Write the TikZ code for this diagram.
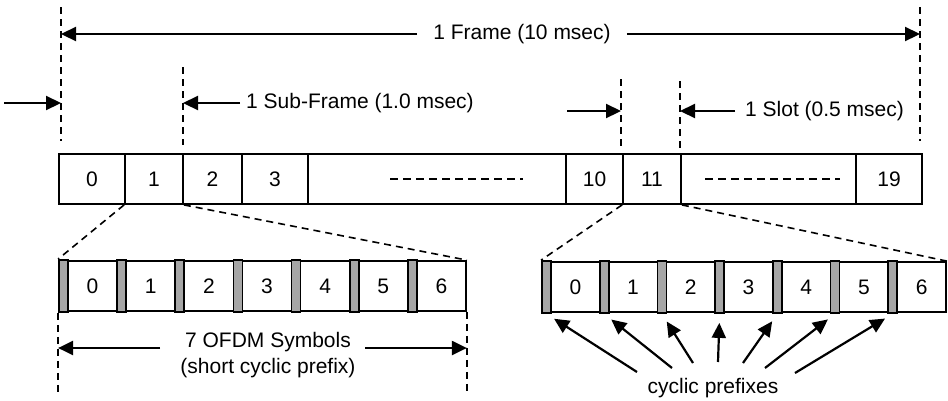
\documentclass[tikz,border=0pt]{standalone}
\usepackage{fontspec}
\setmainfont{Liberation Sans}
\usetikzlibrary{arrows.meta}

\begin{document}
\begin{tikzpicture}[x=1pt,y=-1pt,font=\fontsize{21}{26}\selectfont]
        \tikzstyle{slot}=[draw,line width=1.8pt,minimum height=50pt,inner sep=0pt]
        \tikzstyle{symbox}=[draw,line width=1.8pt,minimum height=50pt,inner sep=0pt]
        \tikzstyle{cpbox}=[draw,line width=1.8pt,fill=black!35,minimum height=52pt,minimum width=9pt,inner sep=0pt]
        \tikzstyle{guide}=[line width=1.6pt,dash pattern=on 7pt off 5pt]
        \tikzstyle{span}=[line width=2.2pt,-{Triangle[length=15pt,width=14pt]}]
        \useasboundingbox (0,0) rectangle (948,400);
       \begin{scope}
         \foreach \xa/\xb/\lab/\nm in {59/125/0/f0,125/183/1/f1,183/242/2/f2,242/308/3/f3,308/566/{}/fd1,
                                     566/623/10/f10,623/681/11/f11,681/856/{}/fd2,856/922/19/f19}
           \node[slot,minimum width={(\xb-\xa)*1pt}] (\nm) at ({(\xa+\xb)/2},179) {\lab};
         \draw[line width=1.5pt,dash pattern=on 8pt off 5pt] (390,179) -- (523,179);
         \draw[line width=1.5pt,dash pattern=on 8pt off 5pt] (705,179) -- (840,179);
       \end{scope}
       \begin{scope}
         \coordinate (g0) at (61,7);
         \coordinate (g1) at (183,67);
         \coordinate (g2) at (621,79);
         \coordinate (g3) at (680,81);
         \coordinate (g4) at (920,7);
         \draw[guide] (g0) -- (61,141);
         \draw[guide] (g1) -- (183,145);
         \draw[guide] (g2) -- (621,150);
         \draw[guide] (g3) -- (680,153);
         \draw[guide] (g4) -- (920,141);
         \node[inner xsep=16pt,inner ysep=0pt] (frm) at (522,34) {1 Frame (10 msec)};
         \draw[span] (frm.west) -- (g0 |- frm);
         \draw[span] (frm.east) -- (g4 |- frm);
         \node[anchor=west,inner xsep=6pt,inner ysep=0pt] (sub) at (240,103) {1 Sub-Frame (1.0 msec)};
         \draw[span] (sub.west) -- (g1 |- sub);
         \coordinate (inL) at (4,103);
         \draw[span] (inL) -- (g0 |- inL);
         \node[anchor=west,inner xsep=10pt,inner ysep=0pt] (slt) at (735,111) {1 Slot (0.5 msec)};
         \draw[span] (slt.west) -- (g3 |- slt);
         \coordinate (inR) at (567,111);
         \draw[span] (inR) -- (g2 |- inR);
       \end{scope}
       \begin{scope}
         \foreach \i in {0,...,6} {
           \node[symbox,minimum width=49.14pt] (ls\i) at ({59+58.14*\i+9+24.57},286) {\i};
           \node[cpbox] (lc\i) at ({59+58.14*\i+4.5},286) {};
         }
         \draw[guide] (f1.south west) -- (lc0.north west);
         \draw[guide] (f1.south east) -- (ls6.north east);
         \draw[guide] (lc0.south west) -- ++(0,81);
         \draw[guide] (ls6.south east) -- ++(0,81);
         \node[align=center] (ofdm) at (268,355) {7 OFDM Symbols\\(short cyclic prefix)};
         \coordinate (oL) at (160,348);
         \coordinate (oR) at (365,348);
         \draw[span] (oL) -- (lc0.south west |- oL);
         \draw[span] (oR) -- (ls6.south east |- oR);
       \end{scope}
       \begin{scope}
         \foreach \i in {0,...,6} {
           \node[symbox,minimum width=48.71pt] (rs\i) at ({542+57.71*\i+9+24.36},287) {\i};
           \node[cpbox] (rc\i) at ({542+57.71*\i+4.5},287) {};
         }
         \draw[guide] (f11.south west) -- (rc0.north west);
         \draw[guide] (f11.south east) -- (rs6.north east);
         \node (cyc) at (713,388) {cyclic prefixes};
         \foreach \i/\sx/\sy in {0/637/372,1/672/368,2/693/363,3/718/362,4/743/363,5/765/368,6/795/373} {
           \coordinate (cp\i) at (\sx,\sy);
           \draw[span,shorten >=9pt] (cp\i) -- (rc\i.south);
         }
       \end{scope}
      \end{tikzpicture}
\end{document}
